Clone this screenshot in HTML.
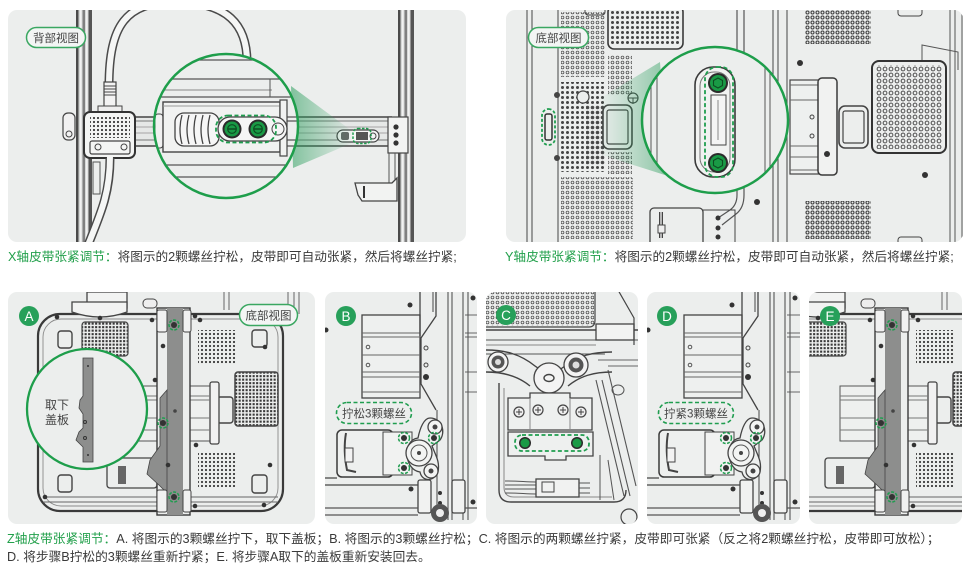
<!DOCTYPE html>
<html><head><meta charset="utf-8">
<style>
html,body{margin:0;padding:0;background:#fff;}
body{width:971px;height:570px;position:relative;overflow:hidden;font-family:"Liberation Sans","Noto Sans CJK SC",sans-serif;}
svg{position:absolute;left:0;top:0;}
.cap{position:absolute;white-space:nowrap;color:#3a3a3a;font-size:12.65px;line-height:18px;font-family:"Liberation Sans","Noto Sans CJK SC",sans-serif;}
.cap span{color:#22a04b;}
</style></head><body>
<svg width="971" height="570" viewBox="0 0 971 570" xmlns="http://www.w3.org/2000/svg" font-family="Liberation Sans, Noto Sans CJK SC, sans-serif">
<defs>
 <pattern id="po" width="5" height="5" patternUnits="userSpaceOnUse"><circle cx="2.5" cy="2.5" r="1.4" fill="none" stroke="#505050" stroke-width="0.8"/></pattern>
 <pattern id="po2" width="5" height="5" patternUnits="userSpaceOnUse"><circle cx="2.5" cy="2.5" r="1.5" fill="none" stroke="#404040" stroke-width="1.1"/></pattern>
 <pattern id="pf" width="5" height="5" patternUnits="userSpaceOnUse"><circle cx="2.5" cy="2.5" r="1.5" fill="#454545"/></pattern>
 <pattern id="pg" width="4" height="4" patternUnits="userSpaceOnUse"><circle cx="2" cy="2" r="1.1" fill="#3a3a3a"/></pattern>
 <pattern id="pd" width="3.5" height="3.5" patternUnits="userSpaceOnUse"><rect x="0.6" y="0.6" width="2.1" height="2.1" fill="#3a3a3a"/></pattern>
 <pattern id="pm" width="6" height="6" patternUnits="userSpaceOnUse"><circle cx="3" cy="3" r="1.9" fill="none" stroke="#3f3f3f" stroke-width="0.9"/></pattern>
 <linearGradient id="g1" x1="0" y1="0" x2="1" y2="0"><stop offset="0" stop-color="#2a9d5c" stop-opacity=".55"/><stop offset="1" stop-color="#2a9d5c" stop-opacity="0.03"/></linearGradient>
 <linearGradient id="g2" x1="1" y1="0" x2="0" y2="0"><stop offset="0" stop-color="#2a9d5c" stop-opacity=".5"/><stop offset="1" stop-color="#2a9d5c" stop-opacity="0.03"/></linearGradient>
 <clipPath id="k1"><rect x="8" y="10" width="458" height="232" rx="9"/></clipPath>
 <clipPath id="k2"><rect x="506" y="10" width="457" height="232" rx="9"/></clipPath>
 <clipPath id="kA"><rect x="8" y="292" width="307" height="232" rx="9"/></clipPath>
 <clipPath id="kB"><rect x="325" y="292" width="152" height="232" rx="9"/></clipPath>
 <clipPath id="kC"><rect x="486" y="292" width="152" height="232" rx="9"/></clipPath>
 <clipPath id="kD"><rect x="647" y="292" width="153" height="232" rx="9"/></clipPath>
 <clipPath id="kE"><rect x="809" y="292" width="153" height="232" rx="9"/></clipPath>
 <clipPath id="cc1"><circle cx="226" cy="126" r="71"/></clipPath>
 <clipPath id="cc2"><circle cx="715" cy="120" r="72"/></clipPath>
 <clipPath id="ccA"><circle cx="87" cy="409" r="60"/></clipPath>

 <g id="ae">
  <rect x="38" y="314" width="245" height="197" rx="22" fill="none" stroke="#3a3a3a" stroke-width="2.2"/>
  <rect x="43" y="319" width="235" height="187" rx="18" fill="none" stroke="#8a8a8a" stroke-width="0.9"/>
  <rect x="87" y="292" width="40" height="16" fill="#f2f3f2" stroke="#444" stroke-width="1.3"/>
  <path d="M72 302 H127 V312 Q100 322 72 312 Z" fill="#f2f3f2" stroke="#444" stroke-width="1.3"/>
  <rect x="143" y="299" width="14" height="9" rx="4" fill="#eee" stroke="#444"/>
  <path d="M224 292 V310 M229 292 V310 M288 292 V312 M294 292 V312 M299 292 V314" stroke="#666" stroke-width="1"/>
  <rect x="82" y="322" width="46" height="34" rx="3" fill="url(#pd)" stroke="#444" stroke-width="1.2"/>
  <rect x="198" y="330" width="38" height="34" fill="url(#pg)"/>
  <rect x="198" y="453" width="38" height="34" fill="url(#pg)"/>
  <rect x="235" y="372" width="43" height="54" rx="3" fill="url(#pd)" stroke="#444" stroke-width="1.5"/>
  <rect x="58" y="331" width="14" height="17" rx="3" fill="none" stroke="#444" stroke-width="1.4"/>
  <rect x="252" y="330" width="15" height="17" rx="3" fill="none" stroke="#444" stroke-width="1.4"/>
  <rect x="217" y="397" width="16" height="26" rx="3" fill="none" stroke="#444" stroke-width="1.4"/>
  <rect x="58" y="475" width="14" height="17" rx="3" fill="none" stroke="#444" stroke-width="1.4"/>
  <rect x="252" y="475" width="15" height="18" rx="3" fill="none" stroke="#444" stroke-width="1.4"/>
  <rect x="122" y="386" width="36" height="55" fill="#eef0ef" stroke="#555"/>
  <path d="M122 396 H158 M122 400 H158 M122 418 H158 M122 430 H158" stroke="#777"/>
  <rect x="190" y="386" width="28" height="55" fill="#eef0ef" stroke="#555"/>
  <rect x="210" y="382" width="9" height="62" rx="2" fill="#f1f1f1" stroke="#444" stroke-width="1.3"/>
  <path d="M190 396 H210 M190 400 H210 M190 418 H210 M190 430 H210" stroke="#777"/>
  <rect x="107" y="458" width="50" height="30" rx="3" fill="none" stroke="#444" stroke-width="1.3"/>
  <rect x="118" y="466" width="8" height="18" fill="#666"/>
  <path d="M43 497 H157 M43 502 H157 M190 497 H278 M190 502 H278" stroke="#666"/>
  <rect x="157" y="308" width="33" height="207" fill="#eceeed" stroke="#3a3a3a" stroke-width="1.4"/>
  <rect x="167" y="308" width="16" height="207" fill="#8d8e8d"/>
  <path d="M167 390 L160 398 V446 L150 460 L147 474 L160 486 L167 493 Z" fill="#8d8e8d" stroke="#444" stroke-width="0.8"/>
  <rect x="157" y="310" width="10" height="22" rx="2" fill="#f1f1f1" stroke="#444"/>
  <rect x="183" y="310" width="8" height="22" rx="2" fill="#f1f1f1" stroke="#444"/>
  <rect x="157" y="490" width="10" height="22" rx="2" fill="#f1f1f1" stroke="#444"/>
  <rect x="183" y="490" width="8" height="22" rx="2" fill="#f1f1f1" stroke="#444"/>
  <circle cx="175" cy="411" r="1.8" fill="#444"/>
  <circle cx="174" cy="325" r="3" fill="#333"/><circle cx="174" cy="325" r="5" fill="none" stroke="#1f9d4f" stroke-width="1.5" stroke-dasharray="3 1.5"/>
  <circle cx="163" cy="423" r="3" fill="#333"/><circle cx="163" cy="423" r="5" fill="none" stroke="#1f9d4f" stroke-width="1.5" stroke-dasharray="3 1.5"/>
  <circle cx="174" cy="497" r="3" fill="#333"/><circle cx="174" cy="497" r="5" fill="none" stroke="#1f9d4f" stroke-width="1.5" stroke-dasharray="3 1.5"/>
  <g fill="#333">
   <circle cx="100" cy="318" r="2.3"/><circle cx="195" cy="316" r="2.3"/><circle cx="163" cy="346" r="2.3"/>
   <circle cx="155" cy="380" r="2.3"/><circle cx="196" cy="445" r="2.3"/><circle cx="168" cy="465" r="2.3"/>
   <circle cx="195" cy="506" r="2.3"/><circle cx="265" cy="347" r="2.3"/><circle cx="270" cy="465" r="2.3"/>
   <circle cx="264" cy="505" r="2.3"/><circle cx="57" cy="317" r="2.3"/><circle cx="45" cy="497" r="2.3"/>
   <circle cx="152" cy="320" r="2.3"/><circle cx="200" cy="320" r="2.3"/>
  </g>
 </g>

 <g id="bd">
  <rect x="362" y="315" width="58" height="83" fill="#eef0ef" stroke="#444" stroke-width="1.3"/>
  <path d="M362 333 H420 M362 337 H420 M362 355 H420 M362 372 H420 M362 377 H420 M362 392 H420" stroke="#666"/>
  <circle cx="368" cy="347" r="1.8" fill="none" stroke="#555"/><circle cx="368" cy="365" r="1.8" fill="none" stroke="#555"/>
  <path d="M465 315 H485 M465 333 H485 M465 337 H485 M465 372 H485 M465 392 H485" stroke="#666"/>
  <path d="M420 290 V336 M436 290 V316 L421 338 V384 L436 410" fill="none" stroke="#444" stroke-width="1.3"/>
  <path d="M433 290 V312 M437 410 V520 M448 290 V520 M452 290 V520 M463 290 V520 M468 290 V520" stroke="#555" stroke-width="1.1"/>
  <circle cx="426" cy="348" r="2" fill="none" stroke="#444"/><circle cx="426" cy="365" r="2" fill="none" stroke="#444"/>
  <circle cx="426" cy="377" r="3" fill="#333"/>
  <g fill="#333"><circle cx="410" cy="305" r="2.5"/><circle cx="473" cy="298" r="2.5"/><circle cx="411" cy="489" r="2.5"/><circle cx="440" cy="493" r="2"/><circle cx="440" cy="503" r="2"/><circle cx="473" cy="502" r="2.5"/><circle cx="326" cy="330" r="2.5"/></g>
  <rect x="337" y="430" width="56" height="47" rx="5" fill="#eef0ef" stroke="#3a3a3a" stroke-width="1.5"/>
  <path d="M346 433 Q343 450 347 470 L356 472" fill="none" stroke="#444" stroke-width="2"/>
  <rect x="345" y="448" width="8" height="14" fill="#f3f3f3" stroke="#444"/>
  <rect x="383" y="432" width="29" height="43" fill="#f1f2f1" stroke="#444"/>
  <path d="M325 485 H418 M325 478 H337" stroke="#444" stroke-width="1.2"/>
  <path d="M430 418 C442 418 446 432 440 440 L432 446 C436 456 440 462 438 472 C434 482 422 482 420 472 C404 470 402 440 418 438 C420 428 424 418 430 418 Z" fill="#eef0ef" stroke="#444" stroke-width="1.3"/>
  <circle cx="419" cy="453" r="13" fill="#f3f4f3" stroke="#444" stroke-width="1.3"/><circle cx="419" cy="453" r="8" fill="none" stroke="#555"/><circle cx="419" cy="453" r="2" fill="#444"/>
  <circle cx="435" cy="427" r="7" fill="#f3f4f3" stroke="#444" stroke-width="1.3"/><circle cx="435" cy="427" r="2.5" fill="#444"/>
  <circle cx="431" cy="471" r="7" fill="#f3f4f3" stroke="#444" stroke-width="1.3"/><circle cx="431" cy="471" r="2.5" fill="#444"/>
  <g><circle cx="404" cy="438" r="3" fill="#333"/><circle cx="404" cy="438" r="5.5" fill="none" stroke="#1f9d4f" stroke-width="1.5" stroke-dasharray="3 1.5"/>
  <circle cx="434" cy="438" r="3" fill="#333"/><circle cx="434" cy="438" r="5.5" fill="none" stroke="#1f9d4f" stroke-width="1.5" stroke-dasharray="3 1.5"/>
  <circle cx="404" cy="468" r="3" fill="#333"/><circle cx="404" cy="468" r="5.5" fill="none" stroke="#1f9d4f" stroke-width="1.5" stroke-dasharray="3 1.5"/></g>
  <rect x="418" y="480" width="13" height="33" rx="2" fill="#f1f2f1" stroke="#444" stroke-width="1.3"/>
  <rect x="452" y="480" width="13" height="33" rx="2" fill="#f1f2f1" stroke="#444" stroke-width="1.3"/>
  <circle cx="440" cy="513" r="9" fill="#555"/><circle cx="440" cy="513" r="4" fill="#eee"/>
  <path d="M325 508 H418 M325 515 H418 M465 508 H480" stroke="#555" stroke-width="1.2"/>
 </g>
</defs>

<!-- PANEL 1 -->
<g clip-path="url(#k1)">
 <rect x="8" y="10" width="458" height="232" fill="#eceeed"/>
 <path d="M109 86 C109 25 126 2 175 2 C228 2 247 25 247 62" fill="none" stroke="#4a4a4a" stroke-width="9"/>
 <path d="M109 86 C109 25 126 2 175 2 C228 2 247 25 247 62" fill="none" stroke="#f5f6f5" stroke-width="6"/>
 <g>
  <rect x="76" y="0" width="16" height="250" fill="#d6d8d7"/>
  <rect x="76" y="0" width="2.5" height="250" fill="#4a4a4a"/>
  <rect x="80" y="0" width="1.5" height="250" fill="#f2f2f2"/>
  <rect x="82.5" y="0" width="2.5" height="250" fill="#808080"/>
  <rect x="86" y="0" width="1.5" height="250" fill="#f2f2f2"/>
  <rect x="88.5" y="0" width="3.5" height="250" fill="#555"/>
 </g>
 <g>
  <rect x="398" y="0" width="16" height="250" fill="#d6d8d7"/>
  <rect x="398" y="0" width="2.5" height="250" fill="#4a4a4a"/>
  <rect x="402" y="0" width="1.5" height="250" fill="#f2f2f2"/>
  <rect x="404.5" y="0" width="2.5" height="250" fill="#808080"/>
  <rect x="408" y="0" width="1.5" height="250" fill="#f2f2f2"/>
  <rect x="410.5" y="0" width="3.5" height="250" fill="#555"/>
 </g>
 <rect x="92" y="117" width="300" height="29" fill="#e6e8e7"/>
 <path d="M92 117 H392 M92 146 H392" stroke="#444" stroke-width="1.5"/>
 <path d="M92 121 H392 M92 140 H392" stroke="#777"/>
 <path d="M92 127 H392 M92 133 H392" stroke="#a5a5a5"/>
 <rect x="388" y="117" width="20" height="36" fill="#f2f3f2" stroke="#444" stroke-width="1.2"/>
 <circle cx="396" cy="127" r="2.6" fill="#333"/><circle cx="396" cy="135" r="2.6" fill="#333"/><circle cx="396" cy="143" r="2.6" fill="#333"/>
 <path d="M389 153 V183 M395 153 V183" stroke="#555"/>
 <rect x="337" y="130" width="42" height="12" rx="6" fill="#f5f5f5" stroke="#444" stroke-width="1.2"/>
 <rect x="341" y="132" width="8" height="8" rx="2" fill="#666"/>
 <rect x="356" y="132" width="12" height="8" fill="#555"/>
 <circle cx="373" cy="136" r="3" fill="none" stroke="#444"/>
 <rect x="353" y="128.5" width="18" height="15" rx="5" fill="none" stroke="#1f9d4f" stroke-width="1.5" stroke-dasharray="2.5 1.5"/>
 <path d="M355 183 L392 183 L397 178 L397 201 L362 201 L358 195 Z" fill="#f2f3f2" stroke="#444" stroke-width="1.3"/>
 <path d="M364 186 V198" stroke="#333" stroke-width="2"/>
 <rect x="104" y="82" width="12" height="30" fill="#f3f3f3" stroke="#444" stroke-width="1.2"/>
 <path d="M104 86 H116 M104 89 H116 M104 92 H116 M104 95 H116" stroke="#444"/>
 <rect x="98" y="106" width="24" height="7" fill="#eee" stroke="#444"/>
 <rect x="63" y="113" width="12" height="27" rx="5" fill="#f1f1f1" stroke="#444" stroke-width="1.2"/>
 <circle cx="69" cy="134" r="3" fill="none" stroke="#444"/>
 <rect x="84" y="112" width="51" height="46" rx="6" fill="#f4f5f4" stroke="#333" stroke-width="2"/>
 <rect x="90" y="117" width="40" height="21" fill="url(#pg)"/>
 <rect x="90" y="141" width="40" height="13" rx="2" fill="none" stroke="#444" stroke-width="1.2"/>
 <circle cx="98" cy="147" r="3" fill="none" stroke="#444"/><circle cx="124" cy="147" r="3" fill="none" stroke="#444"/>
 <path d="M110 158 C110 195 100 215 86 250" fill="none" stroke="#4a4a4a" stroke-width="9"/>
 <path d="M110 156 C110 195 100 215 86 250" fill="none" stroke="#f5f6f5" stroke-width="6"/>
 <rect x="93" y="162" width="7" height="32" fill="none" stroke="#555"/>
 <polygon points="291,86 352,131 352,143 293,168" fill="url(#g1)"/>
 <circle cx="226" cy="126" r="72" fill="#eceeed"/>
 <g clip-path="url(#cc1)">
  <path d="M150 60 H300 M150 79 H300 M150 97 H300" stroke="#555" stroke-width="1.3"/>
  <path d="M160 90 H272" stroke="#888"/>
  <path d="M270 79 V97" stroke="#555"/>
  <path d="M150 117 H163 M150 146 H163 M286 117 H300 M286 121 H300 M286 140 H300 M286 146 H300" stroke="#555" stroke-width="1.2"/>
  <rect x="155" y="114" width="8" height="34" rx="3" fill="#f1f1f1" stroke="#444"/>
  <rect x="163" y="102" width="117" height="50" fill="#f1f2f1" stroke="#444" stroke-width="1.4"/>
  <path d="M163 106 H280" stroke="#999"/>
  <rect x="280" y="100" width="7" height="56" fill="#f1f2f1" stroke="#444" stroke-width="1.2"/>
  <path d="M150 165 H300 M150 177 H300" stroke="#555" stroke-width="1.3"/>
  <rect x="175" y="113" width="44" height="33" rx="9" fill="#f6f6f6" stroke="#444" stroke-width="1.3"/>
  <path d="M182 115 Q178 129.5 182 144 M189 115 Q185 129.5 189 144 M196 115 Q192 129.5 196 144 M203 115 Q199 129.5 203 144 M210 115 Q206 129.5 210 144" fill="none" stroke="#444" stroke-width="1.3"/>
  <rect x="218" y="117" width="69" height="24" rx="12" fill="#f5f5f5" stroke="#444" stroke-width="1.3"/>
  <circle cx="278" cy="129" r="6" fill="none" stroke="#444"/>
  <circle cx="232" cy="129" r="9.5" fill="#2b2b2b"/><circle cx="232" cy="129" r="7.5" fill="#199a45"/><circle cx="232" cy="129" r="4.3" fill="none" stroke="#0d4d22" stroke-width="1.2"/><path d="M228 129 H236" stroke="#0d4d22" stroke-width="1.4"/>
  <circle cx="258" cy="129" r="9.5" fill="#2b2b2b"/><circle cx="258" cy="129" r="7.5" fill="#199a45"/><circle cx="258" cy="129" r="4.3" fill="none" stroke="#0d4d22" stroke-width="1.2"/><path d="M254 129 H262" stroke="#0d4d22" stroke-width="1.4"/>
  <rect x="216" y="115.5" width="60" height="27" rx="12" fill="none" stroke="#1f9d4f" stroke-width="1.8" stroke-dasharray="4 2.5"/>
 </g>
 <circle cx="226" cy="126" r="72" fill="none" stroke="#1e9e4b" stroke-width="2.5"/>
 <rect x="26.5" y="27.5" width="59" height="20" rx="10" fill="#f3f5f4" stroke="#3aa761" stroke-width="1.5"/>
 <text x="56" y="42" font-size="11.5" fill="#444" text-anchor="middle">背部视图</text>
</g>

<!-- PANEL 2 -->
<g clip-path="url(#k2)">
 <rect x="506" y="10" width="457" height="232" fill="#eceeed"/>
 <path d="M527 10 V242 M532 10 V242 M558 10 V242" stroke="#555" stroke-width="1.1"/>
 <rect x="561" y="12" width="44" height="65" fill="url(#po)"/>
 <rect x="561" y="82" width="44" height="90" fill="url(#pf)"/>
 <rect x="586" y="105" width="19" height="60" fill="url(#po)"/>
 <rect x="561" y="177" width="72" height="62" fill="url(#po)"/>
 <rect x="608" y="55" width="24" height="40" fill="url(#po)"/>
 <rect x="608" y="152" width="24" height="22" fill="url(#po)"/>
 <rect x="608" y="6" width="75" height="43" rx="6" fill="#eceeed" stroke="#3a3a3a" stroke-width="1.6"/>
 <rect x="611" y="9" width="69" height="37" fill="url(#pf)"/>
 <rect x="585" y="5" width="20" height="10" rx="3" fill="none" stroke="#444"/>
 <circle cx="583" cy="97" r="6" fill="#eceeed" stroke="#444" stroke-width="1.2"/>
 <circle cx="633" cy="98" r="5" fill="none" stroke="#444" stroke-width="1.2"/><path d="M628 98 H638 M633 98 V104" stroke="#444"/>
 <circle cx="557" cy="95" r="3" fill="#444"/><circle cx="557" cy="158" r="3" fill="#444"/>
 <rect x="603" y="105" width="29" height="44" rx="6" fill="#eceeed" stroke="#444" stroke-width="1.6"/>
 <rect x="607" y="110" width="21" height="34" rx="2" fill="none" stroke="#444" stroke-width="1.2"/>
 <rect x="542" y="109" width="13" height="36" rx="6.5" fill="none" stroke="#1f9d4f" stroke-width="1.8" stroke-dasharray="3 2"/>
 <rect x="545" y="114" width="7" height="26" rx="2" fill="none" stroke="#333" stroke-width="1.5"/>
 <path d="M737 10 V195 Q737 205 730 210 L718 218 M744 10 V195 Q744 208 736 214 L722 225" fill="none" stroke="#555" stroke-width="1.2"/>
 <path d="M773 10 V242 M778 10 V242 M787 10 V242" stroke="#555" stroke-width="1.1"/>
 <rect x="650" y="208" width="53" height="40" rx="4" fill="none" stroke="#444" stroke-width="1.3"/>
 <path d="M661 212 V238" stroke="#444" stroke-width="4"/><path d="M661 212 V238" stroke="#ddd" stroke-width="1.5"/>
 <rect x="658" y="225" width="7" height="8" fill="#eee" stroke="#444"/>
 <rect x="703" y="210" width="32" height="35" fill="none" stroke="#444"/>
 <circle cx="718" cy="218" r="2.5" fill="#333"/><circle cx="718" cy="228" r="2.5" fill="#333"/><circle cx="718" cy="237" r="2.5" fill="#333"/>
 <rect x="790" y="80" width="32" height="94" fill="#eef0ef" stroke="#444" stroke-width="1.2"/>
 <path d="M790 85 H822 M790 100 H822 M790 146 H822 M790 157 H822 M790 170 H822" stroke="#666"/>
 <rect x="818" y="78" width="19" height="97" rx="4" fill="#f1f2f1" stroke="#3a3a3a" stroke-width="1.5"/>
 <circle cx="812" cy="117" r="2" fill="none" stroke="#444"/><circle cx="812" cy="136" r="2" fill="none" stroke="#444"/>
 <rect x="839" y="106" width="29" height="42" rx="6" fill="#eceeed" stroke="#444" stroke-width="1.6"/>
 <rect x="843" y="111" width="21" height="32" rx="2" fill="none" stroke="#444" stroke-width="1.2"/>
 <rect x="805" y="9" width="66" height="35" fill="url(#po2)"/>
 <rect x="805" y="201" width="66" height="38" fill="url(#po2)"/>
 <path d="M922 60 L922 45 L958 52 L958 70" fill="none" stroke="#555"/>
 <rect x="872" y="61" width="74" height="92" rx="7" fill="#eceeed" stroke="#333" stroke-width="2"/>
 <rect x="876" y="65" width="66" height="84" fill="url(#pm)"/>
 <path d="M950 10 V242 M955 10 V242 M962 10 V242" stroke="#555"/>
 <rect x="898" y="7" width="24" height="9" rx="3" fill="none" stroke="#444"/>
 <rect x="898" y="237" width="24" height="9" rx="3" fill="none" stroke="#444"/>
 <g fill="#333"><circle cx="800" cy="63" r="3"/><circle cx="827" cy="154" r="3"/><circle cx="925" cy="175" r="3"/><circle cx="757" cy="202" r="3"/></g>
 <polygon points="602,97 660,62 668,176 602,155" fill="url(#g2)"/>
 <circle cx="715" cy="120" r="73" fill="#eceeed"/>
 <g clip-path="url(#cc2)">
  <path d="M651 40 V200 M657 40 V200 M765 40 V200 M770 40 V200" stroke="#666" stroke-width="1.1"/>
  <rect x="695" y="67" width="40" height="110" rx="18" fill="#f1f2f1" stroke="#3a3a3a" stroke-width="1.6"/>
  <rect x="700" y="72" width="30" height="100" rx="14" fill="none" stroke="#777"/>
  <rect x="711" y="95" width="15" height="50" fill="#f4f4f4" stroke="#444"/>
  <path d="M718 100 V140" stroke="#888"/>
  <circle cx="718" cy="83" r="10" fill="#2b2b2b"/><circle cx="718" cy="83" r="8" fill="#199a45"/><polygon points="718,78 722.5,80.5 722.5,85.5 718,88 713.5,85.5 713.5,80.5" fill="none" stroke="#0d4d22" stroke-width="1.1"/>
  <circle cx="718" cy="163" r="10" fill="#2b2b2b"/><circle cx="718" cy="163" r="8" fill="#199a45"/><polygon points="718,158 722.5,160.5 722.5,165.5 718,168 713.5,165.5 713.5,160.5" fill="none" stroke="#0d4d22" stroke-width="1.1"/>
  <rect x="705" y="67" width="28" height="110" rx="12" fill="none" stroke="#1f9d4f" stroke-width="1.8" stroke-dasharray="4 2.5"/>
 </g>
 <circle cx="715" cy="120" r="73" fill="none" stroke="#1e9e4b" stroke-width="2.5"/>
 <rect x="528.5" y="27.5" width="60" height="20" rx="10" fill="#f3f5f4" stroke="#3aa761" stroke-width="1.5"/>
 <text x="558.5" y="42" font-size="11.5" fill="#444" text-anchor="middle">底部视图</text>
</g>

<!-- PANEL A -->
<g clip-path="url(#kA)">
 <rect x="8" y="292" width="307" height="232" fill="#eceeed"/>
 <use href="#ae"/>
 <circle cx="87" cy="409" r="60" fill="#eceeed"/>
 <g clip-path="url(#ccA)">
  <path d="M83 358 H93 V462 H83 V447 L76 440 L79 432 L83 428 V414 L79 408 L80 400 L83 396 Z" fill="#8d8e8d" stroke="#444" stroke-width="0.8"/>
  <circle cx="88" cy="366" r="1" fill="#333"/><circle cx="88" cy="455" r="1" fill="#333"/><circle cx="85" cy="422" r="1.5" fill="none" stroke="#333"/><circle cx="85" cy="438" r="1.5" fill="none" stroke="#333"/>
 </g>
 <circle cx="87" cy="409" r="60" fill="none" stroke="#1e9e4b" stroke-width="2.3"/>
 <text x="57" y="409" font-size="12" fill="#444" text-anchor="middle">取下</text>
 <text x="57" y="424" font-size="12" fill="#444" text-anchor="middle">盖板</text>
 <rect x="239.5" y="304.5" width="58" height="21" rx="10.5" fill="#f3f5f4" stroke="#3aa761" stroke-width="1.5"/>
 <text x="268.5" y="319.5" font-size="11.5" fill="#444" text-anchor="middle">底部视图</text>
 <circle cx="29" cy="316" r="10" fill="#27a05a"/>
 <text x="29" y="321" font-size="13.5" fill="#fff" text-anchor="middle">A</text>
</g>

<!-- PANEL B -->
<g clip-path="url(#kB)">
 <rect x="325" y="292" width="152" height="232" fill="#eceeed"/>
 <use href="#bd"/>
 <rect x="336.5" y="402.5" width="75" height="21" rx="10.5" fill="#eceeed" stroke="#1f9d4f" stroke-width="1.6" stroke-dasharray="4 2.5"/>
 <text x="374" y="417.5" font-size="11.5" fill="#444" text-anchor="middle">拧松3颗螺丝</text>
 <circle cx="346" cy="316" r="10" fill="#27a05a"/>
 <text x="346" y="321" font-size="13.5" fill="#fff" text-anchor="middle">B</text>
</g>

<!-- PANEL C -->
<g clip-path="url(#kC)">
 <rect x="486" y="292" width="152" height="232" fill="#eceeed"/>
 <rect x="486" y="290" width="108" height="36" fill="url(#po)"/>
 <path d="M486 327 H589 Q595 327 595 320 V290" fill="none" stroke="#444" stroke-width="1.2"/>
 <path d="M486 330 H638" stroke="#444" stroke-width="1.4"/>
 <path d="M486 340 H638" stroke="#555"/>
 <path d="M486 345 H596" stroke="#888"/>
 <rect x="596" y="324" width="38" height="16" fill="#f2f3f2" stroke="#444" stroke-width="1.3"/>
 <path d="M618 290 L634 318 V345" fill="none" stroke="#444" stroke-width="1.2"/>
 <path d="M486 354 H605" stroke="#555"/>
 <path d="M598 360 H638 M608 366 H638" stroke="#666"/>
 <path d="M596 380 L624 496 M602 380 L630 496 M608 370 L636 486" stroke="#555" stroke-width="1.1"/>
 <ellipse cx="618" cy="390" rx="6" ry="5" fill="none" stroke="#555"/>
 <path d="M499 383 V490 Q499 502 511 502 H614 Q626 502 626 490" fill="none" stroke="#444" stroke-width="1.4"/>
 <path d="M504 388 V487 Q504 497 514 497 H612" fill="none" stroke="#888"/>
 <path d="M486 350 C505 350 520 354 535 366 C545 374 555 374 565 366 C578 356 592 352 612 352" fill="none" stroke="#444" stroke-width="1.4"/>
 <path d="M486 372 C503 372 518 376 530 386 M568 386 C580 376 594 372 612 372" fill="none" stroke="#444" stroke-width="1.4"/>
 <circle cx="498" cy="362" r="10" fill="#f3f3f3" stroke="#444" stroke-width="1.3"/><circle cx="498" cy="362" r="6.5" fill="#555"/><circle cx="498" cy="362" r="3" fill="#ddd"/>
 <circle cx="576" cy="365" r="12" fill="#f3f3f3" stroke="#444" stroke-width="1.3"/><circle cx="576" cy="365" r="7.5" fill="#555"/><circle cx="576" cy="365" r="3.5" fill="#ddd"/>
 <circle cx="549" cy="378" r="15" fill="#f3f3f3" stroke="#444" stroke-width="1.3"/><ellipse cx="549" cy="378" rx="5" ry="3.5" fill="none" stroke="#444" stroke-width="1.4"/>
 <path d="M508 398 H530 V393 H570 V398 H592 V430 H508 Z" fill="#eef0ef" stroke="#444" stroke-width="1.3"/>
 <path d="M530 398 V430 M570 398 V430" stroke="#888"/>
 <g fill="#eee" stroke="#444" stroke-width="1.2"><circle cx="519" cy="412" r="5"/><circle cx="538" cy="410" r="5"/><circle cx="563" cy="410" r="5"/><circle cx="581" cy="412" r="5"/></g>
 <path d="M516 412 H522 M519 409 V415 M535 410 H541 M538 407 V413 M560 410 H566 M563 407 V413 M578 412 H584 M581 409 V415" stroke="#444"/>
 <path d="M508 432 H593 V456 H566 V460 H545 V456 H508 Z" fill="#eef0ef" stroke="#444" stroke-width="1.3"/>
 <circle cx="525" cy="443" r="6" fill="#2b2b2b"/><circle cx="525" cy="443" r="4.5" fill="#199a45"/>
 <circle cx="577" cy="443" r="6" fill="#2b2b2b"/><circle cx="577" cy="443" r="4.5" fill="#199a45"/>
 <rect x="515" y="435" width="74" height="16" rx="7" fill="none" stroke="#1f9d4f" stroke-width="1.8" stroke-dasharray="4 2.5"/>
 <path d="M505 481 C520 481 525 482 536 482 M505 485 H536 M505 489 H536 M505 493 C520 493 525 494 536 494" fill="none" stroke="#555"/>
 <rect x="536" y="479" width="43" height="18" fill="#f1f2f1" stroke="#444" stroke-width="1.3"/>
 <rect x="542" y="482" width="12" height="10" fill="none" stroke="#444"/>
 <path d="M579 483 H590 M579 488 H590 M579 493 H590" stroke="#555"/>
 <path d="M600 455 V500 M608 460 L614 500" stroke="#555"/>
 <circle cx="629" cy="517" r="8" fill="none" stroke="#444" stroke-width="1.2"/>
 <circle cx="506" cy="315" r="10" fill="#27a05a"/>
 <text x="506" y="320" font-size="13.5" fill="#fff" text-anchor="middle">C</text>
</g>

<!-- PANEL D -->
<g clip-path="url(#kD)">
 <rect x="647" y="292" width="153" height="232" fill="#eceeed"/>
 <use href="#bd" x="322"/>
 <rect x="658.5" y="402.5" width="75" height="21" rx="10.5" fill="#eceeed" stroke="#1f9d4f" stroke-width="1.6" stroke-dasharray="4 2.5"/>
 <text x="696" y="417.5" font-size="11.5" fill="#444" text-anchor="middle">拧紧3颗螺丝</text>
 <circle cx="667" cy="316" r="10" fill="#27a05a"/>
 <text x="667" y="321" font-size="13.5" fill="#fff" text-anchor="middle">D</text>
</g>

<!-- PANEL E -->
<g clip-path="url(#kE)">
 <rect x="809" y="292" width="153" height="232" fill="#eceeed"/>
 <use href="#ae" x="718"/>
 <circle cx="830" cy="316" r="10" fill="#27a05a"/>
 <text x="830" y="321" font-size="13.5" fill="#fff" text-anchor="middle">E</text>
</g>
</svg>

<div class="cap" style="left:8px;top:248px;"><span>X轴皮带张紧调节：</span>将图示的2颗螺丝拧松，皮带即可自动张紧，然后将螺丝拧紧;</div>
<div class="cap" style="left:505px;top:248px;"><span>Y轴皮带张紧调节：</span>将图示的2颗螺丝拧松，皮带即可自动张紧，然后将螺丝拧紧;</div>
<div class="cap" style="left:7px;top:530px;font-size:12.7px;"><span>Z轴皮带张紧调节：</span>A. 将图示的3颗螺丝拧下，取下盖板；B. 将图示的3颗螺丝拧松；C. 将图示的两颗螺丝拧紧，皮带即可张紧（反之将2颗螺丝拧松，皮带即可放松）；</div>
<div class="cap" style="left:7px;top:548px;font-size:12.7px;">D. 将步骤B拧松的3颗螺丝重新拧紧；E. 将步骤A取下的盖板重新安装回去。</div>
</body></html>
